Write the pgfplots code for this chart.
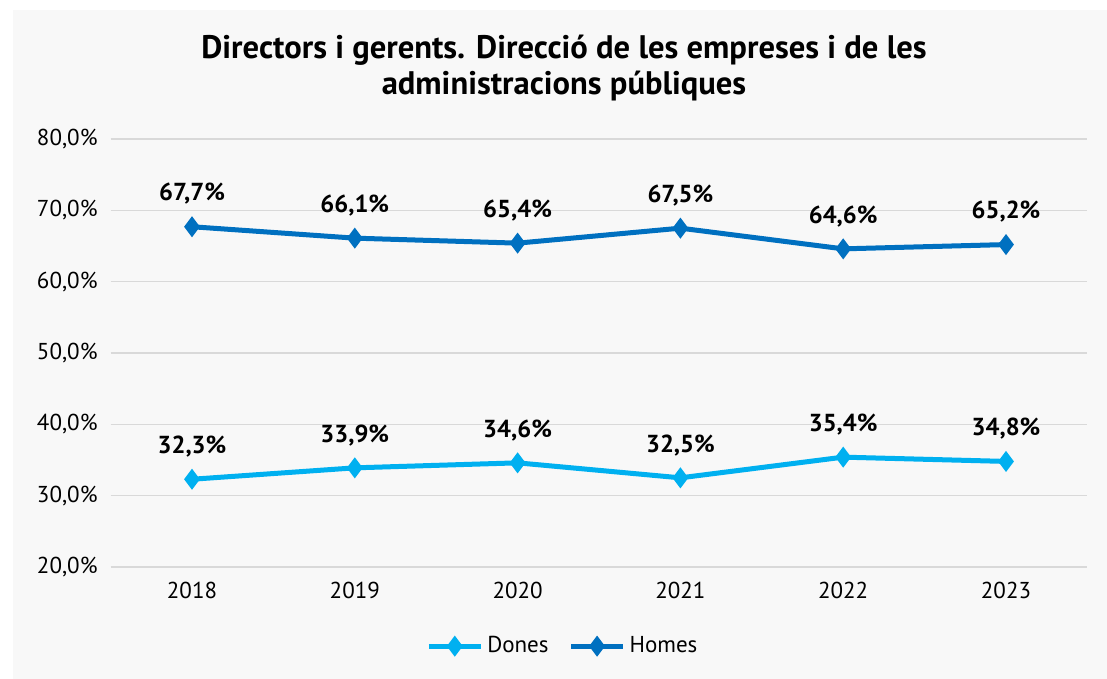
\documentclass[border=0pt]{standalone}
\usepackage{pgfplots}
\pgfplotsset{compat=1.18}
\usepackage{fontspec}
\setmainfont{PT Sans}
\definecolor{dones}{HTML}{00B0F0}
\definecolor{homes}{HTML}{0070C0}
\definecolor{bgc}{HTML}{F8F8F8}
\definecolor{gridc}{HTML}{D9D9D9}
\begin{document}
\begin{tikzpicture}
\fill[white] (0,0) rectangle (553.5pt,339.5pt);
\fill[bgc] (6.5pt,0) rectangle (553.5pt,334.5pt);
\node[font=\bfseries\fontsize{16.3}{18}\selectfont, align=center] at (282pt,305.5pt)
  {Directors i gerents. Direcció de les empreses i de les\\administracions públiques};
\begin{axis}[
  at={(55.3pt,56pt)}, anchor=south west,
  scale only axis, width=488.4pt, height=214pt,
  xmin=-0.5, xmax=5.5, ymin=20, ymax=80,
  xtick={0,1,2,3,4,5},
  xticklabels={2018,2019,2020,2021,2022,2023},
  ytick={20,30,40,50,60,70,80},
  axis line style={draw=none},
  major tick length=0pt,
  ymajorgrids=true, xmajorgrids=false,
  major grid style={draw=gridc, line width=0.6pt},
  /pgf/number format/assume math mode=true,
  yticklabel={\pgfmathprintnumber[fixed,fixed zerofill,precision=1,use comma]{\tick}\%},
  ticklabel style={font=\fontsize{11.5}{13}\selectfont},
  yticklabel style={xshift=-3pt},
  xticklabel style={yshift=-4pt},
  nodes near coords={\pgfmathprintnumber[fixed,fixed zerofill,precision=1,use comma]{\pgfplotspointmeta}\%},
  nodes near coords style={font=\bfseries\fontsize{12.3}{14}\selectfont, black, yshift=6.5pt},
  legend style={at={(0.464,-0.185)}, anchor=center, draw=none, fill=none,
    legend columns=2, font=\fontsize{11.5}{13}\selectfont,
    /tikz/every even column/.append style={column sep=8pt}},
  legend image code/.code={
    \draw[#1, mark repeat=2, mark phase=2] plot coordinates {(0pt,0pt) (13pt,0pt) (26pt,0pt)};},
  clip=false,
]
\addplot[dones, line width=2.5pt, mark=diamond*, mark size=3.2pt, mark options={solid}]
  coordinates {(0,32.3) (1,33.9) (2,34.6) (3,32.5) (4,35.4) (5,34.8)};
\addlegendentry{Dones}
\addplot[homes, line width=2.5pt, mark=diamond*, mark size=3.2pt, mark options={solid}]
  coordinates {(0,67.7) (1,66.1) (2,65.4) (3,67.5) (4,64.6) (5,65.2)};
\addlegendentry{Homes}
\end{axis}
\end{tikzpicture}
\end{document}
